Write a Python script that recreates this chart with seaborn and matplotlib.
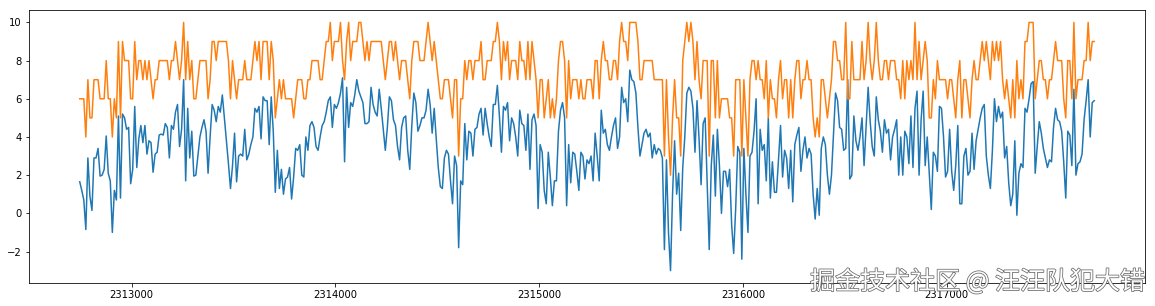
import numpy as np
import pandas as pd
import matplotlib
matplotlib.use("Agg")
import matplotlib.pyplot as plt
import matplotlib.patheffects as pe
import seaborn as sns

# ---- data ----
x_start = 2312745
x_step = 10

series_a = [
    1.65, 1.2, 0.7, -0.85, 2.9, 0.9, 0.15, 2.9, 2.9, 3.4, 1.95, 2.0, 2.3, 4.05, 2.1, 1.7, -1.0, 1.2, 0.7, 5.1,
    0.8, 5.2, 5.0, 4.4, 4.5, 1.55, 2.3, 5.6, 2.4, 3.9, 4.6, 3.7, 4.6, 3.1, 3.8, 3.7, 2.15, 3.1, 3.2, 4.1,
    4.15, 4.1, 4.7, 4.5, 2.9, 4.6, 4.4, 5.3, 5.7, 3.5, 4.4, 7.0, 1.7, 5.5, 2.9, 4.3, 1.95, 2.0, 3.0, 4.0,
    4.5, 4.9, 4.3, 2.1, 4.0, 5.7, 5.4, 4.8, 5.6, 5.3, 6.2, 5.0, 3.8, 2.6, 1.3, 2.5, 4.2, 1.65, 3.0, 3.1,
    3.0, 4.4, 2.8,
    3.1, 3.6, 4.0, 5.5, 5.3, 5.6, 3.9, 6.1, 5.9, 5.9, 3.6, 6.1, 4.3, 1.1, 3.3, 1.3, 2.3, 1.0, 1.8, 1.9,
    2.4, 0.75, 1.9, 3.4, 3.3, 3.6, 2.0, 1.9, 4.0, 3.3, 4.6, 4.8, 4.5, 3.5, 3.3, 4.0, 4.6, 4.8, 5.3, 5.9,
    6.1, 4.5, 5.7,
    5.5, 5.8, 6.3, 7.1, 2.7, 6.6, 4.5, 5.8, 5.6, 6.2, 7.0, 6.4, 6.1, 5.8, 4.7, 4.7, 4.8, 6.6, 5.7, 5.3,
    5.1, 6.5, 5.5, 4.4, 3.3, 4.5, 6.1, 5.9, 4.9, 4.6, 3.5, 2.8, 4.5, 5.0, 5.1, 3.3, 2.3, 4.6, 6.3, 5.8,
    4.3, 4.6, 5.0,
    5.0, 5.4, 6.5, 5.7, 4.2, 5.5, 3.9, 2.4, 1.4, 1.3, 2.9, 3.3, 3.1, 1.7, 0.5, 3.0, 2.5, -1.8, 1.7, 1.5,
    4.7, 2.8, 4.3, 4.2, 3.0, 4.4, 4.5, 5.2, 5.5, 4.1, 5.5, 4.7, 4.0, 3.5, 5.7, 5.7, 6.7, 5.1, 3.2, 5.6,
    5.4, 5.8,
    3.8, 5.0, 4.7, 4.0, 3.0, 5.4, 4.7, 4.6, 3.3, 5.2, 2.3, 4.9, 5.2, 4.6, 0.25, 3.6, 3.2, 1.2, 0.5, 3.2,
    1.9, 0.4, 1.7, 1.7, 4.3, 5.4, 5.8, 5.0, 0.4, 3.6, 1.6, 3.2, 3.1, 2.2, 1.2, 3.2, 3.0, 1.8, 2.8, 2.6,
    3.0, 1.7, 4.2,
    3.0, 1.7, 5.4, 4.2, 4.4, 3.6, 3.3, 4.0, 4.6, 5.0, 3.4, 4.0, 6.6, 5.8, 6.0, 4.8, 7.5, 7.0, 6.9, 6.3,
    4.5, 3.0, 3.6, 4.2, 4.4, 4.0, 4.2, 2.9, 3.6, 3.1, 3.4, 3.3, 2.9, -1.9, 2.8, -1.0, -3.0, 1.0, 3.8, 1.0,
    2.1, -0.9, 2.4,
    4.0, 6.3, 6.6, 6.4, 5.5, 3.2, 5.9, 3.9, 1.5, 4.7, 5.0, 1.5, -1.9, 2.5, 4.1, 0.9, 4.4, 2.5, 0.0, 2.2,
    2.2, 1.4, 2.3, -0.6, -2.1, 0.3, 3.5, 3.2, -2.4, 3.4, 1.0, -1.0, 3.0, 3.2, 4.3, 6.0, 0.5, 4.4, 3.3, 3.6,
    1.7, 5.0,
    0.8, 2.7, 1.1, 1.1, 2.8, 4.6, 1.9, 3.3, 2.9, 1.3, 3.3, 0.6, 3.6, 4.1, 4.5, 2.2, 3.3, 4.0, 2.9, 3.4,
    3.1, 1.0, -0.3, 1.3, -0.1, 3.4, 4.0, 3.6, 2.0, 1.0, 2.0, 4.1, 6.3, 5.9, 4.5, 4.4, 3.3, 3.4, 7.0, 1.8,
    2.0, 5.1, 3.8,
    3.3, 4.0, 5.0, 2.5, 4.5, 6.6, 4.8, 3.5, 3.0, 6.1, 4.9, 4.3, 3.2, 4.9, 4.2, 4.4, 2.8, 4.0, 4.4, 4.9,
    2.0, 4.0, 2.0, 4.3, 4.0, 2.6, 5.1, 2.4, 5.5, 6.4, 2.0, 4.9, 6.4, 2.5, 4.0, 2.1, 0.2, 3.2, 3.0, 2.2,
    5.6, 5.5, 4.0,
    1.9, 2.2, 4.4, 2.2, 1.2, 2.5, 4.6, 0.5, 0.5, 3.0, 3.4, 2.0, 2.2, 4.2, 2.3, 3.8, 4.4, 5.0, 5.5, 5.7,
    3.0, 2.0, 1.3, 3.3, 6.0, 4.8, 5.6, 5.0, 5.3, 2.9, 3.5, 1.6, 0.4, 1.0, 3.8, -0.1, 2.1, 2.6, 2.4, 5.5,
    5.3, 6.0,
    6.8, 6.9, 2.1, 3.5, 4.8, 4.2, 3.4, 2.9, 2.4, 2.8, 2.7, 4.5, 5.5, 4.9, 4.8, 4.3, 2.7, 0.8, 4.3, 4.1,
    2.5, 6.5, 2.0, 2.6, 2.7, 3.1, 4.9, 5.9, 7.0, 4.0, 5.8, 5.9,
]

series_b = [
    6, 6, 6, 4, 7, 5, 5, 7, 7, 7, 6, 6, 6, 8, 6, 6, 4, 6, 5, 9,
    5, 9, 8, 8, 8, 6, 6, 9, 7, 8, 8, 7, 8, 7, 8, 7, 6, 7, 7, 8,
    8, 8, 8, 8, 7, 8, 8, 9, 8, 7, 8, 10, 7, 9, 7, 8, 6, 6, 7, 8,
    8, 8, 8, 6, 7, 9, 9, 8, 9, 9, 9, 9, 9, 8, 6, 8, 7, 6, 7, 7,
    7, 8, 7,
    7, 7, 8, 9, 8, 9, 7, 9, 9, 9, 7, 9, 8, 5, 6, 7, 6, 7, 6, 6,
    6, 6, 5, 6, 7, 7, 7, 6, 6, 7, 7, 8, 8, 8, 8, 7, 7, 8, 9, 9,
    10, 8, 9,
    9, 9, 10, 8, 7, 9, 10, 8, 9, 9, 9, 10, 10, 9, 8, 9, 8, 9, 9, 9,
    9, 9, 9, 8, 7, 8, 9, 9, 8, 9, 8, 7, 8, 8, 8, 7, 6, 8, 9, 9,
    9, 8, 8,
    8, 9, 10, 9, 8, 9, 8, 7, 6, 6, 7, 7, 7, 6, 5, 7, 7, 3, 6, 6,
    8, 7, 8, 8, 7, 8, 8, 8, 9, 7, 7, 8, 8, 8, 9, 9, 10, 9, 7, 9,
    8, 9,
    7, 8, 8, 8, 7, 9, 8, 8, 7, 9, 7, 9, 8, 7, 5, 7, 7, 5, 6, 7,
    5, 6, 5, 6, 8, 9, 9, 8, 5, 8, 6, 7, 7, 7, 6, 7, 6, 6, 7, 7,
    7, 6, 8,
    8, 6, 8, 9, 8, 8, 7, 7, 8, 8, 7, 9, 10, 9, 9, 8, 10, 10, 10, 10,
    9, 7, 7, 8, 8, 8, 8, 8, 7, 7, 7, 7, 7, 3, 7, 4, 2, 5, 7, 5,
    5, 3, 8,
    9, 10, 9, 10, 9, 7, 9, 7, 6, 8, 8, 8, 3, 8, 8, 5, 8, 5, 6, 6,
    6, 6, 5, 5, 3, 7, 7, 7, 3, 7, 5, 3, 7, 8, 8, 7, 8, 7, 7, 6,
    8, 5,
    7, 6, 6, 5, 7, 8, 6, 7, 7, 5, 7, 5, 7, 8, 8, 6, 7, 7, 8, 7,
    7, 5, 4, 5, 4, 7, 7, 6, 5, 6, 7, 9, 9, 8, 8, 7, 7, 10, 6, 6,
    9, 7, 7,
    7, 7, 9, 7, 8, 10, 8, 7, 8, 10, 8, 7, 7, 8, 8, 7, 8, 8, 8, 7,
    7, 6, 8, 6, 8, 7, 8, 7, 10, 7, 9, 7, 8, 9, 8, 5, 5, 7, 6, 8,
    7, 7, 7,
    7, 6, 7, 7, 6, 5, 7, 8, 5, 7, 7, 6, 5, 7, 8, 7, 7, 8, 9, 8,
    9, 8, 7, 9, 8, 9, 8, 9, 7, 6, 7, 6, 5, 7, 5, 8, 6, 7, 6, 9,
    9, 10,
    10, 10, 6, 7, 8, 8, 7, 7, 6, 7, 7, 8, 9, 8, 8, 8, 6, 5, 8, 8,
    6, 10, 6, 7, 7, 7, 8, 8, 10, 8, 9, 9,
]

x_ticks = [2313000, 2314000, 2315000, 2316000, 2317000]
y_ticks = [-2, 0, 2, 4, 6, 8, 10]
watermark = "掘金技术社区 @ 汪汪队犯大错"

n = min(len(series_a), len(series_b))
idx = x_start + x_step * np.arange(n)
df = pd.DataFrame({"idx": idx, "a": series_a[:n], "b": series_b[:n]})

# ---- figure ----
fig = plt.figure(figsize=(1155 / 72, 306 / 72), dpi=72)
ax = fig.add_axes([29 / 1155, 1 - 283 / 306, (1145 - 29) / 1155, (283 - 10) / 306])

sns.lineplot(data=df, x="idx", y="a", ax=ax, color="#1f77b4", linewidth=1.5)
sns.lineplot(data=df, x="idx", y="b", ax=ax, color="#ff7f0e", linewidth=1.5)

ax.set_xlabel("")
ax.set_ylabel("")
ax.set_xticks(x_ticks)
ax.set_yticks(y_ticks)
ax.ticklabel_format(axis="x", style="plain", useOffset=False)
ax.tick_params(labelsize=10)
ax.margins(x=0.05, y=0.05)

fig.text(1145 / 1155, 1 - 282 / 306, watermark, ha="right", va="center",
         fontsize=25, color="white",
         family=["Noto Sans CJK SC", "DejaVu Sans"],
         path_effects=[pe.withStroke(linewidth=1.5, foreground="#666666")])

fig.savefig("out.png", dpi=72)
